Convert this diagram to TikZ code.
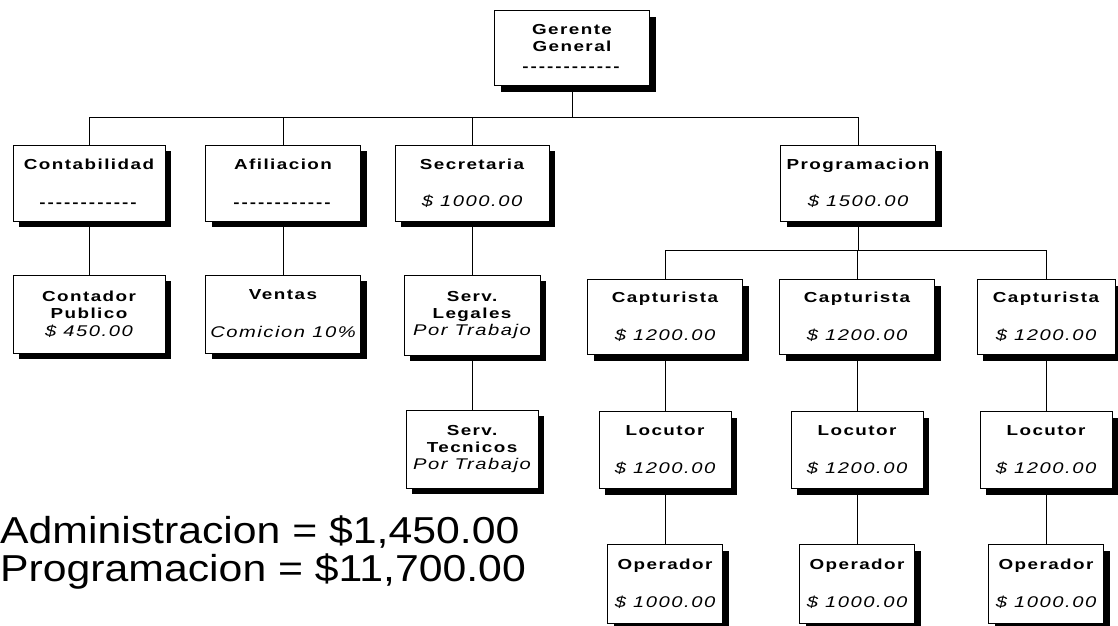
\documentclass[tikz,border=0pt]{standalone}
\usepackage{fontspec}
\usetikzlibrary{shadows}
\newfontfamily\cajafont[FakeStretch=1.3,LetterSpace=10]{Liberation Sans}
\newfontfamily\totalfont[FakeStretch=1.14]{Liberation Sans}
\newcommand{\rayas}{\foreach \i in {1,...,12}{-\kern2pt}}
\newcommand{\valor}[1]{{\mdseries\itshape\fontsize{15.5}{17}\selectfont #1}}
\begin{document}
\begin{tikzpicture}[x=1pt, y=-1pt, thin,
  puesto/.style={draw, fill=white, inner sep=2pt, align=center,
    font=\cajafont\fontsize{14.5}{17}\selectfont\bfseries,
    drop shadow={shadow xshift=6pt, shadow yshift=-6pt, fill=black, opacity=1}},
  total/.style={anchor=base west, inner sep=0pt, font=\totalfont\fontsize{37.5}{38}\selectfont}]
  \useasboundingbox (0,0) rectangle (1118,625);

  % 1. Gerencia y primer nivel
  \node[puesto, minimum width=155, minimum height=75] (ger) at (572,48) {Gerente\\General\\[3pt]\rayas};
  \node[puesto, minimum width=152, minimum height=76] (cont) at (89,183) {Contabilidad\\[21pt]\rayas};
  \node[puesto, minimum width=155, minimum height=76] (afil) at (283,183) {Afiliacion\\[21pt]\rayas};
  \node[puesto, minimum width=154, minimum height=76] (secr) at (472,183) {Secretaria\\[20pt]\valor{\$ 1000.00}};
  \node[puesto, minimum width=155, minimum height=76] (prog) at (858,183) {Programacion\\[20pt]\valor{\$ 1500.00}};

  % 2. Administracion
  \node[puesto, minimum width=152, minimum height=78] (contp) at (89,314) {Contador\\Publico\\[1pt]\valor{\$ 450.00}};
  \node[puesto, minimum width=155, minimum height=78] (vent) at (283,314) {Ventas\\[21pt]\valor{Comicion 10\%}};
  \node[puesto, minimum width=136, minimum height=80] (legal) at (472,315) {Serv.\\Legales\\[0pt]\valor{Por Trabajo}};
  \node[puesto, minimum width=132, minimum height=78] (tecn) at (472,449) {Serv.\\Tecnicos\\[0pt]\valor{Por Trabajo}};

  % 3. Programacion: capturista, locutor, operador
  \foreach \i/\x/\w in {1/665/155, 2/857/155, 3/1046/138}{
    \node[puesto, minimum width=\w, minimum height=75] (cap\i) at (\x,317) {Capturista\\[21pt]\valor{\$ 1200.00}};
    \node[puesto, minimum width=132, minimum height=77] (loc\i) at (\x,450) {Locutor\\[21pt]\valor{\$ 1200.00}};
    \node[puesto, minimum width=115, minimum height=79] (op\i) at (\x,584) {Operador\\[21pt]\valor{\$ 1000.00}};
  }

  % 4. Lineas de mando
  \coordinate (busA) at (572,117);
  \coordinate (busB) at (858,250);
  \draw (ger.south) -- (busA);
  \foreach \n in {cont,afil,secr,prog} \draw (busA) -| (\n.north);
  \draw (prog.south) -- (busB);
  \foreach \n in {cap1,cap2,cap3} \draw (busB) -| (\n.north);
  \draw (cont.south) -- (contp.north);
  \draw (afil.south) -- (vent.north);
  \draw (secr.south) -- (legal.north);
  \draw (legal.south) -- (tecn.north);
  \foreach \i in {1,2,3}{
    \draw (cap\i.south) -- (loc\i.north);
    \draw (loc\i.south) -- (op\i.north);
  }

  % 5. Totales
  \node[total] (totadm) at (0,543) {Administracion = \$1,450.00};
  \node[total] (totprog) at (0,581) {Programacion = \$11,700.00};
\end{tikzpicture}
\end{document}
